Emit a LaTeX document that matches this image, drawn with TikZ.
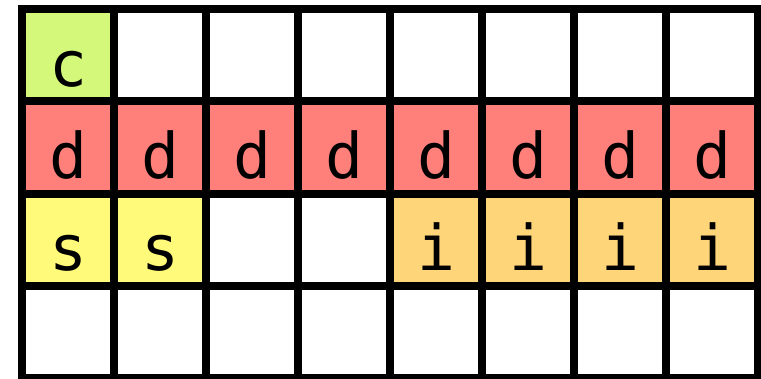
\documentclass[tikz,border=0pt]{standalone}
\usepackage{fontspec}
\setmonofont{DejaVu Sans Mono}
\usepackage{xcolor}
\usepackage{tikz}
\usetikzlibrary{positioning}

\definecolor{cfill}{RGB}{212,249,122}
\definecolor{dfill}{RGB}{255,128,122}
\definecolor{sfill}{RGB}{255,250,122}
\definecolor{ifill}{RGB}{255,213,122}

\begin{document}
\begin{tikzpicture}[x=1pt, y=-1pt,
        cell/.style={rectangle, minimum width=92pt, minimum height=92.25pt, inner sep=0pt, outer sep=0pt},
        letter/.style={anchor=base, inner sep=0pt, font=\ttfamily\fontsize{63}{63}\selectfont},
        gridline/.style={draw=black, line width=8pt}]

        \useasboundingbox (0,0) rectangle (761,378);

        % coloured cells
        \foreach \col/\row/\clr/\txt in {1/1/cfill/c,
                1/2/dfill/d, 2/2/dfill/d, 3/2/dfill/d, 4/2/dfill/d, 5/2/dfill/d, 6/2/dfill/d, 7/2/dfill/d, 8/2/dfill/d,
                1/3/sfill/s, 2/3/sfill/s,
                5/3/ifill/i, 6/3/ifill/i, 7/3/ifill/i, 8/3/ifill/i} {
            \node (cell-\col-\row) [cell, fill=\clr] at ({22+92*(\col-0.5)}, {9+92.25*(\row-0.5)}) {};
            \node (txt-\col-\row) [letter] at ([yshift=15pt]cell-\col-\row.south) {\txt};
        }

        % grid
        \draw[gridline] (22,9) rectangle (758,378);
        \foreach \i in {1,...,7}
            \draw[gridline] ({22+92*\i}, 9) -- ++(0,369);
        \foreach \j in {1,...,3}
            \draw[gridline] (22, {9+92.25*\j}) -- ++(736,0);
    \end{tikzpicture}
\end{document}
